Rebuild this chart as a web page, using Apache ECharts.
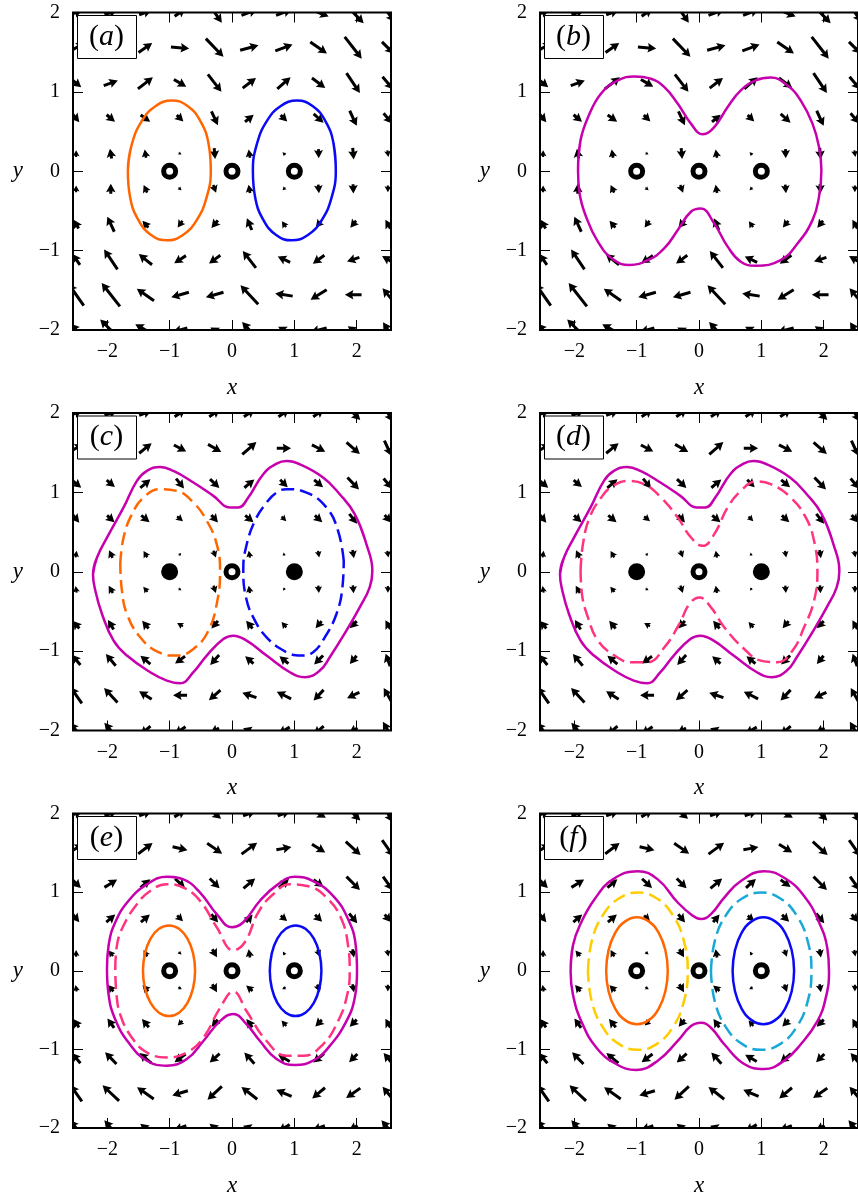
<!DOCTYPE html>
<html>
<head>
<meta charset="utf-8">
<script src="https://cdn.jsdelivr.net/npm/echarts@6/dist/echarts.min.js"></script>
<style>
  html, body { margin: 0; padding: 0; background: #fff; }
  #chart { width: 858px; height: 1198px; }
</style>
</head>
<body>
<div id="chart"></div>
<script>
// quiver grid (rows from top to bottom)
var quiverX = [-2.5, -1.944, -1.389, -0.833, -0.278, 0.278, 0.833, 1.389, 1.944, 2.5];
var quiverY = [2, 1.556, 1.111, 0.667, 0.222, -0.222, -0.667, -1.111, -1.556, -2];
var tickValues = [-2, -1, 0, 1, 2];

// arrows as [magnitude, angle in degrees], panels (a),(b)
var fieldAB = [
  [[4,20],[4,20],[4,20],[4,35],[7.5,-55],[5,20],[5,20],[6.5,-22],[9,-46],[7,-55]],
  [[6,30],[5,20],[5,35],[5.5,-5],[7.6,-46],[5.7,15],[5.5,20],[6.1,-35],[8.3,-52],[5,-45]],
  [[4,-40],[4.5,20],[5.7,38],[4.3,-30],[6.6,-52],[5,37],[5.3,41],[5,-37],[7.2,-56],[5,-50]],
  [[3,-50],[3.3,-40],[3.5,-35],[2.8,-45],[4.6,-65],[3.4,40],[2.8,-45],[4,-42],[5,-65],[4,-50]],
  [[2,90],[3,100],[2.5,100],[1,-30],[3.3,-85],[2.5,100],[1.2,135],[2.7,-88],[3.5,-85],[2,-80]],
  [[2,90],[3,90],[2.5,115],[1.2,-40],[2.5,-70],[2.5,100],[1.2,-135],[2.6,-85],[2.8,-88],[2,-90]],
  [[3,120],[5,115],[2.7,130],[2.5,-125],[3,-130],[3.8,113],[2.2,125],[2.6,-130],[2.7,-130],[3,120]],
  [[4,125],[7.2,124],[5.1,141],[4.2,-147],[4.2,-144],[6.4,128],[4.1,155],[4.3,-144],[3.9,-162],[4,150]],
  [[8,125],[8.9,128],[6.3,145],[5.5,-164],[5.5,-164],[7.8,133],[5.3,171],[5.7,-148],[5,180],[5,130]],
  [[5,130],[9,135],[7,150],[4.5,-165],[3,150],[6.5,132],[4,150],[5,-165],[4,145],[5.5,122]]
];
// panels (c),(d)
var fieldCD = [
  [[4,20],[4,20],[4,20],[4,35],[4,35],[4,35],[4,35],[4,35],[6,-45],[6,-60]],
  [[5,30],[5,20],[4.8,39],[4.2,-28],[4.6,-30],[5.6,41],[4.3,0],[4.5,-27],[5.3,-41],[5,-65]],
  [[4,-40],[3.2,-39],[4,40],[3.8,-51],[3.9,-44],[3.9,40],[3.2,-45],[3.5,-40],[5,-46],[4,-50]],
  [[3,-50],[3,-42],[3.2,-39],[2.3,-40],[3,-49],[3.2,-39],[2,-45],[3,-42],[3.8,-52],[3,-50]],
  [[2,80],[2.5,115],[2.2,120],[1,45],[2.2,-70],[2.1,100],[1,100],[2,-80],[2.5,-80],[2,-80]],
  [[2,100],[2.5,120],[2,130],[1,-30],[2.3,-72],[2.2,100],[1,-120],[2.2,-85],[2.4,-85],[2,-90]],
  [[3,130],[3.3,121],[3,130],[2,150],[3,-130],[3,130],[2.2,130],[2.8,-130],[3,-135],[3,120]],
  [[4,130],[4.6,130],[3.9,140],[3.7,-144],[4,-132],[3.3,139],[3.5,140],[3.8,-135],[3.2,-129],[4,110]],
  [[6,125],[5.9,133],[4.5,147],[4.2,180],[4.6,-139],[4.5,161],[4.8,153],[4.4,-133],[4.1,-155],[5,120]],
  [[6,130],[6,130],[4,-140],[4,-145],[3,-150],[4,160],[4,-150],[4,-140],[3,-150],[6,120]]
];
// panels (e),(f)
var fieldEF = [
  [[4,20],[4,20],[4,20],[4,30],[5,-40],[4,20],[4,20],[5,-30],[6,-45],[6,-60]],
  [[5,30],[5,20],[5.4,37],[4.6,-13],[5.5,-35],[5.8,36],[4.6,10],[4.7,-32],[6,-42],[6,-55]],
  [[4,-45],[4.5,32],[3.9,40],[4.1,-43],[4.2,-45],[4.6,40],[4,42],[3.7,-36],[5.7,-45],[5,-55]],
  [[3,-50],[3.5,40],[3.5,40],[2.5,-45],[3.2,-50],[3,50],[2.5,-40],[3,-45],[3.8,-50],[3,-50]],
  [[2,90],[2.2,130],[2.2,120],[1.2,-40],[2.8,-60],[2.5,100],[1.2,120],[2.2,-70],[2.5,-80],[2,-80]],
  [[2,100],[2.5,130],[2.5,135],[1.2,-30],[2.8,-60],[2.5,140],[1.2,-150],[2.4,-70],[2.4,-80],[2,-90]],
  [[3,125],[3.5,125],[3.2,130],[2,-135],[2.8,-130],[3,125],[2.2,130],[2.8,-135],[3,-135],[3,120]],
  [[4,130],[4.9,134],[4.7,140],[4.1,-143],[4,-138],[4.5,132],[4,150],[4.2,-140],[3.5,-135],[4,130]],
  [[6,125],[6.8,137],[6.1,145],[4.9,-163],[5.9,-137],[6,142],[5,157],[5,-140],[5.2,-145],[5,130]],
  [[6,130],[6,130],[4,140],[4,-160],[4,140],[4,160],[4,-150],[4,-160],[3,-150],[6,130]]
];

// closed curves, [x, y]
var curveAOrange = [[-1.67,0.01],[-1.604,0.347],[-1.447,0.632],[-1.223,0.823],[-0.965,0.89],[-0.713,0.823],[-0.507,0.632],[-0.376,0.347],[-0.34,0.01],[-0.406,-0.327],[-0.563,-0.612],[-0.787,-0.803],[-1.045,-0.87],[-1.297,-0.803],[-1.503,-0.612],[-1.634,-0.327]];
var curveABlue = [[1.665,0.01],[1.629,0.347],[1.498,0.632],[1.292,0.823],[1.044,0.89],[0.782,0.823],[0.558,0.632],[0.401,0.347],[0.335,0.01],[0.371,-0.327],[0.502,-0.612],[0.708,-0.803],[0.956,-0.87],[1.218,-0.803],[1.442,-0.612],[1.599,-0.327]];
var curveBMagenta = [[-1.94,0.013],[-1.9,0.39],[-1.78,0.68],[-1.57,0.98],[-1.3,1.145],[-1.035,1.195],[-0.77,1.165],[-0.555,1.06],[-0.34,0.85],[-0.13,0.6],[0.06,0.465],[0.245,0.557],[0.46,0.81],[0.67,1.02],[0.91,1.145],[1.15,1.18],[1.42,1.08],[1.63,0.893],[1.82,0.6],[1.925,0.306],[1.963,0.013],[1.925,-0.32],[1.82,-0.616],[1.58,-0.91],[1.31,-1.12],[0.91,-1.19],[0.67,-1.14],[0.46,-0.95],[0.245,-0.66],[0.03,-0.47],[-0.13,-0.51],[-0.34,-0.74],[-0.555,-0.97],[-0.82,-1.12],[-1.115,-1.18],[-1.38,-1.11],[-1.62,-0.89],[-1.81,-0.575],[-1.915,-0.28]];
var curveCMagenta = [[-2.229,-0.03],[-2.165,0.18],[-2.005,0.43],[-1.739,0.81],[-1.525,1.145],[-1.365,1.27],[-1.152,1.32],[-0.939,1.27],[-0.619,1.124],[-0.299,0.956],[-0.032,0.81],[0.101,0.81],[0.261,0.935],[0.501,1.229],[0.715,1.363],[0.875,1.396],[1.088,1.354],[1.461,1.187],[1.728,0.977],[1.968,0.725],[2.155,0.348],[2.251,0.013],[2.208,-0.197],[2.048,-0.449],[1.835,-0.742],[1.568,-1.077],[1.408,-1.245],[1.168,-1.329],[0.928,-1.266],[0.555,-1.056],[0.235,-0.868],[0.021,-0.805],[-0.139,-0.847],[-0.405,-1.056],[-0.619,-1.266],[-0.832,-1.405],[-1.045,-1.371],[-1.312,-1.266],[-1.685,-1.056],[-1.899,-0.868],[-2.085,-0.532],[-2.192,-0.239]];
var curveCOrange = [[-1.792,0.097],[-1.739,0.432],[-1.605,0.725],[-1.419,0.935],[-1.152,1.04],[-0.885,1.019],[-0.619,0.872],[-0.405,0.642],[-0.245,0.348],[-0.192,0.013],[-0.235,-0.365],[-0.379,-0.742],[-0.619,-0.973],[-0.885,-1.056],[-1.179,-1.014],[-1.472,-0.826],[-1.685,-0.532],[-1.765,-0.239]];
var curveCBlue = [[1.792,0.138],[1.701,0.516],[1.515,0.81],[1.195,0.998],[0.875,1.04],[0.715,0.998],[0.555,0.872],[0.368,0.642],[0.224,0.306],[0.181,0.013],[0.224,-0.323],[0.341,-0.574],[0.555,-0.826],[0.875,-1.014],[1.115,-1.056],[1.301,-1.014],[1.488,-0.826],[1.675,-0.532],[1.771,-0.197]];
var curveDPink = [[-1.899,0.013],[-1.861,0.348],[-1.755,0.684],[-1.568,0.935],[-1.381,1.082],[-1.141,1.145],[-0.875,1.103],[-0.608,0.935],[-0.341,0.684],[-0.128,0.432],[0.059,0.327],[0.245,0.474],[0.459,0.81],[0.672,1.019],[0.912,1.136],[1.152,1.103],[1.472,0.935],[1.712,0.684],[1.845,0.39],[1.899,0.013],[1.845,-0.365],[1.685,-0.7],[1.499,-0.994],[1.259,-1.14],[0.992,-1.12],[0.725,-0.973],[0.405,-0.7],[0.192,-0.449],[0.005,-0.323],[-0.155,-0.407],[-0.315,-0.658],[-0.555,-0.952],[-0.821,-1.14],[-1.088,-1.14],[-1.355,-1.056],[-1.621,-0.868],[-1.781,-0.574],[-1.877,-0.281]];
var curveEMagenta = [[-2.005,0.03],[-1.979,0.323],[-1.872,0.616],[-1.659,0.89],[-1.365,1.099],[-1.045,1.195],[-0.779,1.162],[-0.512,0.994],[-0.245,0.721],[-0.005,0.554],[0.181,0.617],[0.448,0.89],[0.715,1.086],[1.008,1.195],[1.301,1.141],[1.621,0.952],[1.861,0.658],[1.984,0.323],[2.005,-0.012],[1.968,-0.348],[1.835,-0.641],[1.568,-0.956],[1.301,-1.144],[1.008,-1.199],[0.715,-1.123],[0.448,-0.893],[0.235,-0.683],[0.021,-0.549],[-0.192,-0.641],[-0.459,-0.893],[-0.725,-1.123],[-1.045,-1.207],[-1.365,-1.144],[-1.659,-0.914],[-1.872,-0.62],[-1.979,-0.306]];
var curveEPink = [[-1.872,0.03],[-1.845,0.323],[-1.739,0.575],[-1.525,0.847],[-1.312,1.015],[-1.045,1.099],[-0.779,1.057],[-0.512,0.889],[-0.245,0.554],[0.021,0.26],[0.208,0.365],[0.421,0.742],[0.661,0.973],[0.928,1.099],[1.248,1.07],[1.541,0.91],[1.755,0.658],[1.861,0.323],[1.888,-0.012],[1.835,-0.348],[1.701,-0.641],[1.461,-0.935],[1.141,-1.082],[0.875,-1.082],[0.555,-0.893],[0.235,-0.516],[0.021,-0.264],[-0.192,-0.474],[-0.459,-0.851],[-0.725,-1.04],[-1.045,-1.102],[-1.365,-1.04],[-1.605,-0.851],[-1.792,-0.558],[-1.856,-0.264]];
var curveEOrange = [[-1.428,0],[-1.396,0.221],[-1.306,0.408],[-1.171,0.533],[-1.01,0.577],[-0.849,0.533],[-0.714,0.408],[-0.624,0.221],[-0.592,0],[-0.624,-0.221],[-0.714,-0.408],[-0.849,-0.533],[-1.01,-0.577],[-1.171,-0.533],[-1.306,-0.408],[-1.396,-0.221]];
var curveEBlue = [[0.606,0],[0.638,0.221],[0.727,0.408],[0.862,0.533],[1.02,0.577],[1.178,0.533],[1.313,0.408],[1.402,0.221],[1.434,0],[1.402,-0.221],[1.313,-0.408],[1.178,-0.533],[1.02,-0.577],[0.862,-0.533],[0.727,-0.408],[0.638,-0.221]];
var curveFMagenta = [[-2.059,-0.012],[-2.021,0.323],[-1.888,0.616],[-1.675,0.91],[-1.381,1.162],[-0.981,1.267],[-0.661,1.162],[-0.341,0.868],[-0.101,0.7],[0.032,0.658],[0.192,0.721],[0.405,0.931],[0.672,1.141],[1.045,1.267],[1.365,1.183],[1.685,0.952],[1.925,0.616],[2.059,0.281],[2.085,-0.012],[2.032,-0.348],[1.899,-0.641],[1.632,-0.935],[1.365,-1.144],[1.045,-1.249],[0.725,-1.186],[0.405,-0.935],[0.192,-0.725],[0.032,-0.662],[-0.128,-0.704],[-0.341,-0.893],[-0.661,-1.144],[-1.008,-1.262],[-1.328,-1.186],[-1.648,-0.977],[-1.888,-0.641],[-2.021,-0.306]];
var curveFYellow = [[-1.781,-0.006],[-1.72,0.377],[-1.547,0.701],[-1.287,0.918],[-0.981,0.994],[-0.675,0.918],[-0.415,0.701],[-0.242,0.377],[-0.181,-0.006],[-0.242,-0.389],[-0.415,-0.713],[-0.675,-0.93],[-0.981,-1.006],[-1.287,-0.93],[-1.547,-0.713],[-1.72,-0.389]];
var curveFCyan = [[0.192,-0.006],[0.253,0.377],[0.428,0.701],[0.69,0.918],[0.998,0.994],[1.306,0.918],[1.568,0.701],[1.743,0.377],[1.803,-0.006],[1.743,-0.389],[1.568,-0.713],[1.306,-0.93],[0.998,-1.006],[0.69,-0.93],[0.428,-0.713],[0.253,-0.389]];
var curveFOrange = [[-1.489,0],[-1.451,0.26],[-1.344,0.481],[-1.184,0.628],[-0.995,0.68],[-0.806,0.628],[-0.646,0.481],[-0.539,0.26],[-0.501,0],[-0.539,-0.26],[-0.646,-0.481],[-0.806,-0.628],[-0.995,-0.68],[-1.184,-0.628],[-1.344,-0.481],[-1.451,-0.26]];
var curveFBlue = [[0.539,0],[0.577,0.26],[0.683,0.481],[0.843,0.628],[1.032,0.68],[1.221,0.628],[1.381,0.481],[1.487,0.26],[1.525,0],[1.487,-0.26],[1.381,-0.481],[1.221,-0.628],[1.032,-0.68],[0.843,-0.628],[0.683,-0.481],[0.577,-0.26]];

// fixed points
var ringsAll = [[-1, 0], [0, 0], [1, 0]];
var ringsMid = [[0, 0]];
var dotsSide = [[-1, 0], [1, 0]];

var ORANGE = '#ff6600', BLUE = '#0a0af5', MAGENTA = '#c600ac', PINK = '#ff3380',
    YELLOW = '#ffcc00', CYAN = '#1aa8d6';

var panels = [
  { label: 'a', left: 73, top: 12.5, field: fieldAB, rings: ringsAll, dots: [],
    curves: [[curveAOrange, ORANGE, false], [curveABlue, BLUE, false]] },
  { label: 'b', left: 540, top: 12.5, field: fieldAB, rings: ringsAll, dots: [],
    curves: [[curveBMagenta, MAGENTA, false]] },
  { label: 'c', left: 73, top: 413, field: fieldCD, rings: ringsMid, dots: dotsSide,
    curves: [[curveCMagenta, MAGENTA, false], [curveCOrange, ORANGE, true], [curveCBlue, BLUE, true]] },
  { label: 'd', left: 540, top: 413, field: fieldCD, rings: ringsMid, dots: dotsSide,
    curves: [[curveCMagenta, MAGENTA, false], [curveDPink, PINK, true]] },
  { label: 'e', left: 73, top: 813.5, field: fieldEF, rings: ringsAll, dots: [],
    curves: [[curveEMagenta, MAGENTA, false], [curveEPink, PINK, true], [curveEOrange, ORANGE, false], [curveEBlue, BLUE, false]] },
  { label: 'f', left: 540, top: 813.5, field: fieldEF, rings: ringsAll, dots: [],
    curves: [[curveFMagenta, MAGENTA, false], [curveFYellow, YELLOW, true], [curveFCyan, CYAN, true], [curveFOrange, ORANGE, false], [curveFBlue, BLUE, false]] }
];

var GW = 318, GH = 317.5;
var ARROW_PX = 10 / 3;      // pixels per magnitude unit
var SHAFT = 3, HEAD_W = 9.5, HEAD_LEN = 8.5, HEAD_AXIS = 7.5;
var SERIF = "'Liberation Serif', 'DejaVu Serif', serif";

function renderArrow(params, api) {
  var c = api.coord([api.value(0), api.value(1)]);
  var L = api.value(2) * ARROW_PX;
  var ang = api.value(3) * Math.PI / 180;
  var ux = Math.cos(ang), uy = -Math.sin(ang);
  var s = 1, Ld = L;
  if (L < HEAD_LEN + 1) { s = L / (HEAD_LEN + 1); Ld = HEAD_LEN + 1; }
  var local = [[0, -SHAFT / 2], [Ld - HEAD_AXIS, -SHAFT / 2], [Ld - HEAD_LEN, -HEAD_W / 2], [Ld, 0],
               [Ld - HEAD_LEN, HEAD_W / 2], [Ld - HEAD_AXIS, SHAFT / 2], [0, SHAFT / 2]];
  var pts = local.map(function (p) {
    var t = (p[0] - Ld / 2) * s, n = p[1] * s;
    return [c[0] + t * ux - n * uy, c[1] + t * uy + n * ux];
  });
  return { type: 'polygon', shape: { points: pts }, style: { fill: '#000' } };
}

function minus(v) { return String(v).replace('-', '\u2212'); }

var grids = [], xAxes = [], yAxes = [], series = [], graphics = [];

panels.forEach(function (p, i) {
  grids.push({ left: p.left, top: p.top, width: GW, height: GH, show: true,
    borderColor: '#000', borderWidth: 2, backgroundColor: 'transparent' });

  var tick = { show: true, inside: true, length: 10, customValues: tickValues,
    lineStyle: { color: '#000', width: 1 } };
  var ytick = { show: true, inside: true, length: 10, lineStyle: { color: '#000', width: 1 } };
  var noLine = { show: false, onZero: false };
  xAxes.push({ type: 'value', gridIndex: i, position: 'bottom', min: -2.55, max: 2.55,
    name: 'x', nameLocation: 'middle', nameGap: 46,
    nameTextStyle: { fontFamily: SERIF, fontStyle: 'italic', fontSize: 23, color: '#000' },
    axisLine: noLine, splitLine: { show: false }, axisTick: tick,
    axisLabel: { customValues: tickValues, formatter: minus, fontFamily: SERIF, fontSize: 20,
      color: '#000', margin: 12 } });
  xAxes.push({ type: 'value', gridIndex: i, position: 'top', min: -2.55, max: 2.55,
    axisLine: noLine, splitLine: { show: false }, axisTick: tick,
    axisLabel: { show: false } });
  yAxes.push({ type: 'value', gridIndex: i, position: 'left', min: -2, max: 2, interval: 1,
    name: 'y', nameLocation: 'middle', nameGap: 50, nameRotate: 0,
    nameTextStyle: { fontFamily: SERIF, fontStyle: 'italic', fontSize: 23, color: '#000' },
    axisLine: noLine, splitLine: { show: false }, axisTick: ytick,
    axisLabel: { formatter: minus, fontFamily: SERIF, fontSize: 20, color: '#000', margin: 13 } });
  yAxes.push({ type: 'value', gridIndex: i, position: 'right', min: -2, max: 2, interval: 1,
    axisLine: noLine, splitLine: { show: false }, axisTick: ytick,
    axisLabel: { show: false } });

  var arrows = [];
  p.field.forEach(function (row, r) {
    row.forEach(function (v, k) { arrows.push([quiverX[k], quiverY[r], v[0], v[1]]); });
  });
  series.push({ type: 'custom', xAxisIndex: 2 * i, yAxisIndex: 2 * i, clip: true, silent: true,
    animation: false, renderItem: renderArrow, encode: { x: 0, y: 1 }, data: arrows, z: 2 });

  p.curves.forEach(function (c) {
    // solid loops repeat their first segment so the join stays smooth
    var loop = c[2] ? c[0].concat([c[0][0]]) : c[0].concat([c[0][0], c[0][1]]);
    series.push({ type: 'line', xAxisIndex: 2 * i, yAxisIndex: 2 * i, data: loop,
      smooth: 0.45, showSymbol: false, silent: true, animation: false, z: 3,
      lineStyle: { color: c[1], width: 2.5, type: c[2] ? [13, 6] : 'solid' } });
  });

  series.push({ type: 'scatter', xAxisIndex: 2 * i, yAxisIndex: 2 * i, data: p.rings, symbol: 'circle',
    symbolSize: 12, silent: true, animation: false, z: 5,
    itemStyle: { color: '#fff', borderColor: '#000', borderWidth: 5, opacity: 1 } });
  if (p.dots.length) {
    series.push({ type: 'scatter', xAxisIndex: 2 * i, yAxisIndex: 2 * i, data: p.dots, symbol: 'circle',
      symbolSize: 17, silent: true, animation: false, z: 5, itemStyle: { color: '#000', opacity: 1 } });
  }

  graphics.push({ type: 'rect', left: p.left + 4, top: p.top + 2.5, z: 100,
    shape: { width: 59, height: 43 }, style: { fill: '#fff', stroke: '#000', lineWidth: 1 } });
  graphics.push({ type: 'text', x: p.left + 33.5, y: p.top + 24.5, z: 101,
    style: { text: '{p|(}{l|' + p.label + '}{p|)}', align: 'center', verticalAlign: 'middle',
      rich: { p: { fontFamily: SERIF, fontSize: 30, fill: '#000' },
              l: { fontFamily: SERIF, fontSize: 30, fontStyle: 'italic', fill: '#000' } } } });
});

var chart = echarts.init(document.getElementById('chart'), null, { renderer: 'canvas' });
chart.setOption({
  backgroundColor: '#fff',
  animation: false,
  grid: grids,
  xAxis: xAxes,
  yAxis: yAxes,
  series: series,
  graphic: graphics
});
</script>
</body>
</html>
